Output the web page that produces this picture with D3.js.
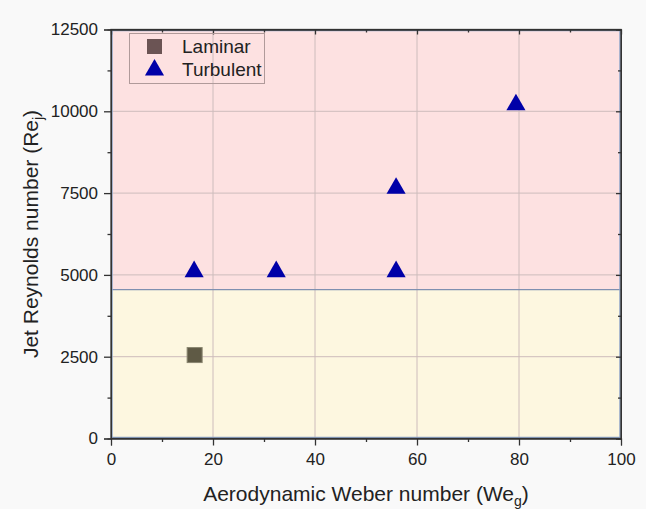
<!DOCTYPE html>
<html>
<head>
<meta charset="utf-8">
<script src="https://cdn.jsdelivr.net/npm/d3@7"></script>
<style>
body { margin: 0; background: #f9f9f9; }
text { font-family: "Liberation Sans", Arial, sans-serif; fill: #222; }
</style>
</head>
<body>
<script>
// data
var laminarWe = [16.4];
var laminarRe = [2550];
var turbulentWe = [16.3, 32.4, 55.9, 55.9, 79.4];
var turbulentRe = [5100, 5100, 5100, 7650, 10200];
var regimeLimit = 4550; // laminar / turbulent boundary
var xTicks = [0, 20, 40, 60, 80, 100];
var yTicks = [0, 2500, 5000, 7500, 10000, 12500];

var w = 646, h = 509;
// plot edges ("top" is taken on window, so pl/pr/pt/pb)
var pl = 111, pr = 621, pt = 29.5, pb = 438.5;

var svg = d3.select("body").append("svg")
	.attr("width", w)
	.attr("height", h);

var x = d3.scaleLinear().domain([0, 100]).range([pl, pr]);
var y = d3.scaleLinear().domain([0, 12500]).range([pb, pt]);

// regime shading
svg.append("rect")
	.attr("x", x(0)).attr("y", y(12500))
	.attr("width", x(100) - x(0)).attr("height", y(regimeLimit) - y(12500))
	.style("fill", "#fde1e1");
svg.append("rect")
	.attr("x", x(0)).attr("y", y(regimeLimit))
	.attr("width", x(100) - x(0)).attr("height", y(0) - y(regimeLimit))
	.style("fill", "#fdf7e0");

// grid
svg.selectAll(".vgrid")
	.data(xTicks.slice(1, -1))
	.enter().append("line")
	.attr("x1", function(d){ return x(d); })
	.attr("x2", function(d){ return x(d); })
	.attr("y1", y(12500)).attr("y2", y(0))
	.style("stroke", "#cdbcbc").style("stroke-width", 1);
svg.selectAll(".hgrid")
	.data(yTicks.slice(1, -1))
	.enter().append("line")
	.attr("y1", function(d){ return y(d); })
	.attr("y2", function(d){ return y(d); })
	.attr("x1", x(0)).attr("x2", x(100))
	.style("stroke", "#cdbcbc").style("stroke-width", 1);

// boundary line
svg.append("line")
	.attr("x1", x(0)).attr("x2", x(100))
	.attr("y1", y(regimeLimit)).attr("y2", y(regimeLimit))
	.style("stroke", "#7f8fb0").style("stroke-width", 1.2);

// frame (blue inner, dark outer)
svg.append("rect")
	.attr("x", x(0) + 1).attr("y", y(12500) + 1)
	.attr("width", x(100) - x(0) - 2).attr("height", y(0) - y(12500) - 2)
	.style("fill", "none").style("stroke", "#8fa5c8").style("stroke-width", 1.5);
svg.append("rect")
	.attr("x", x(0)).attr("y", y(12500))
	.attr("width", x(100) - x(0)).attr("height", y(0) - y(12500))
	.style("fill", "none").style("stroke", "#333").style("stroke-width", 1.3);

// axes
var xMinor = d3.range(10, 100, 20);
var yMinor = d3.range(1250, 12500, 2500);
var fmt = d3.format("d");

svg.append("g")
	.attr("transform", "translate(0," + y(0) + ")")
	.call(d3.axisBottom(x).tickValues(xTicks).tickFormat(fmt).tickSize(7).tickPadding(7));
svg.append("g")
	.attr("transform", "translate(0," + y(0) + ")")
	.call(d3.axisBottom(x).tickValues(xMinor).tickSize(3.5).tickFormat(""));
svg.append("g")
	.attr("transform", "translate(" + x(0) + ",0)")
	.call(d3.axisLeft(y).tickValues(yTicks).tickFormat(fmt).tickSize(7).tickPadding(6));
svg.append("g")
	.attr("transform", "translate(" + x(0) + ",0)")
	.call(d3.axisLeft(y).tickValues(yMinor).tickSize(3.5).tickFormat(""));
// inward ticks on top and right
svg.append("g")
	.attr("transform", "translate(0," + y(12500) + ")")
	.call(d3.axisBottom(x).tickValues(xTicks).tickSize(5).tickFormat(""));
svg.append("g")
	.attr("transform", "translate(0," + y(12500) + ")")
	.call(d3.axisBottom(x).tickValues(xMinor).tickSize(3).tickFormat(""));
svg.append("g")
	.attr("transform", "translate(" + x(100) + ",0)")
	.call(d3.axisLeft(y).tickValues(yTicks).tickSize(5).tickFormat(""));
svg.append("g")
	.attr("transform", "translate(" + x(100) + ",0)")
	.call(d3.axisLeft(y).tickValues(yMinor).tickSize(3).tickFormat(""));

svg.selectAll(".domain").style("stroke", "#333");
svg.selectAll(".tick line").style("stroke", "#333").style("stroke-width", 1.3);
svg.selectAll(".tick text")
	.style("font-size", "17px")
	.style("font-family", "'Liberation Sans', Arial, sans-serif")
	.style("fill", "#222");

// axis titles
var xt = svg.append("text")
	.attr("x", (pl + pr) / 2).attr("y", 501)
	.attr("text-anchor", "middle")
	.style("font-size", "21px")
	.text("Aerodynamic Weber number (We");
xt.append("tspan").attr("dy", 5).style("font-size", "14px").text("g");
xt.append("tspan").attr("dy", -5).text(")");

var yt = svg.append("text")
	.attr("transform", "translate(38," + ((pt + pb) / 2) + ") rotate(-90)")
	.attr("text-anchor", "middle")
	.style("font-size", "21px")
	.text("Jet Reynolds number (Re");
yt.append("tspan").attr("dy", 5).style("font-size", "14px").text("j");
yt.append("tspan").attr("dy", -5).text(")");

// points
var tri = d3.symbol().type(d3.symbolTriangle).size(158);
svg.selectAll(".turb")
	.data(turbulentWe)
	.enter().append("path")
	.attr("class", "turb")
	.attr("d", tri)
	.attr("transform", function(d, i){
		return "translate(" + x(d) + "," + y(turbulentRe[i]) + ")";
	})
	.style("fill", "#0000a8");

svg.selectAll(".lam")
	.data(laminarWe)
	.enter().append("rect")
	.attr("class", "lam")
	.attr("x", function(d){ return x(d) - 7.5; })
	.attr("y", function(d, i){ return y(laminarRe[i]) - 7.5; })
	.attr("width", 15).attr("height", 15)
	.style("fill", "#5f5a45")
	.style("stroke", "#8a8670").style("stroke-width", 1);

// legend
var lg = svg.append("g");
lg.append("rect")
	.attr("x", 129.5).attr("y", 33.5).attr("width", 135).attr("height", 50)
	.style("fill", "none").style("stroke", "#b09a9a").style("stroke-width", 1);
lg.append("rect")
	.attr("x", 147).attr("y", 39).attr("width", 15).attr("height", 15)
	.style("fill", "#6b5454");
lg.append("path")
	.attr("d", tri)
	.attr("transform", "translate(154.5,70)")
	.style("fill", "#0000a8");
lg.append("text").attr("x", 182).attr("y", 53).style("font-size", "19px").text("Laminar");
lg.append("text").attr("x", 182).attr("y", 76).style("font-size", "19px").text("Turbulent");
</script>
</body>
</html>
